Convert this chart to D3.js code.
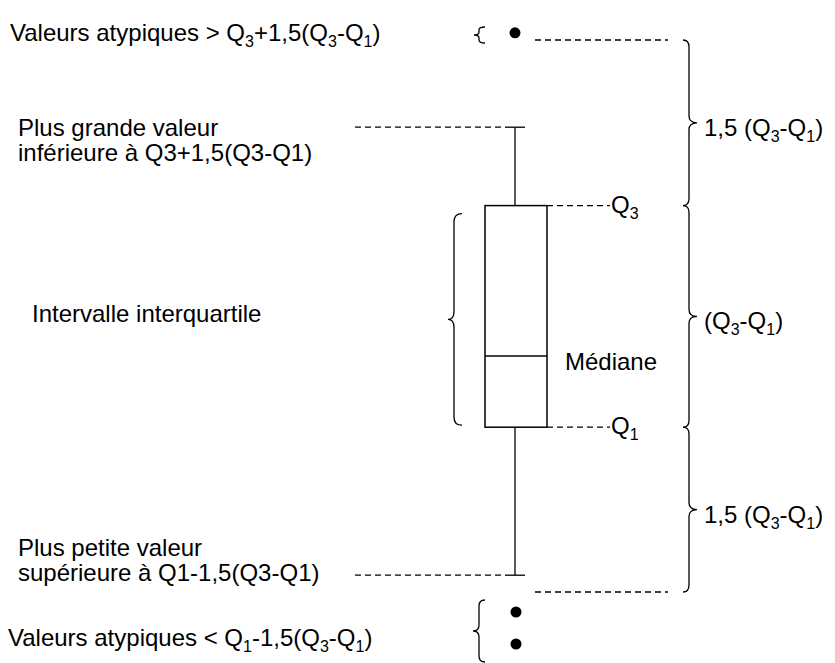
<!DOCTYPE html>
<html>
<head>
<meta charset="utf-8">
<script src="https://cdn.jsdelivr.net/npm/d3@7/dist/d3.min.js"></script>
<style>
  html, body { margin: 0; padding: 0; background: #fff; }
  svg { display: block; }
  text { font-family: "Liberation Sans", Arial, sans-serif; fill: #000; }
</style>
</head>
<body>
<svg id="chart" width="835" height="663"></svg>
<script>
// ---- data (abstract value units) ----
const category = ["Distribution"];
const upperOutliers = [39.2];
const lowerOutliers = [3.0, 1.0];
const whiskerValues = [5.3, 33.3];          // lower, upper whisker end
const quartileValues = [14.55, 19.0, 28.4]; // Q1, median, Q3
const fenceValues = [4.25, 38.75];          // Q1-1.5IQR, Q3+1.5IQR (schematic)

// ---- labels (use "_" + char for subscript) ----
const labelOutHigh = "Valeurs atypiques > Q_3+1,5(Q_3-Q_1)";
const labelOutLow = "Valeurs atypiques < Q_1-1,5(Q_3-Q_1)";
const labelMaxLines = ["Plus grande valeur", "inférieure à Q3+1,5(Q3-Q1)"];
const labelMinLines = ["Plus petite valeur", "supérieure à Q1-1,5(Q3-Q1)"];
const labelIQR = "Intervalle interquartile";
const labelMedian = "Médiane";
const labelQ3 = "Q_3";
const labelQ1 = "Q_1";
const rightLabels = ["1,5 (Q_3-Q_1)", "(Q_3-Q_1)", "1,5 (Q_3-Q_1)"];

const svg = d3.select("#chart");
const y = d3.scaleLinear().domain([0, 40]).range([660, 20]);
const x = d3.scaleBand().domain(category).range([485, 547]).padding(0);

const cx = x(category[0]) + x.bandwidth() / 2 - 1;
const [q1, med, q3] = quartileValues;
const [wLo, wHi] = whiskerValues;
const [fLo, fHi] = fenceValues;

const FS = 24;
function richText(sel, str, xPos, yPos) {
  const t = sel.append("text").attr("x", xPos).attr("y", yPos).attr("font-size", FS);
  const parts = str.split(/(_.)/).filter(s => s.length);
  let shifted = false;
  parts.forEach(p => {
    if (p[0] === "_" && p.length === 2) {
      t.append("tspan").attr("font-size", 16).attr("dy", 6).text(p[1]);
      shifted = true;
    } else {
      const ts = t.append("tspan").text(p);
      if (shifted) { ts.attr("dy", -6); shifted = false; }
    }
  });
  return t;
}

function brace(xEnd, xMid, xTip, y1, y2, r) {
  const ym = (y1 + y2) / 2;
  const p = d3.path();
  p.moveTo(xEnd, y1);
  p.quadraticCurveTo(xMid, y1, xMid, y1 + r);
  p.lineTo(xMid, ym - r);
  p.quadraticCurveTo(xMid, ym, xTip, ym);
  p.quadraticCurveTo(xMid, ym, xMid, ym + r);
  p.lineTo(xMid, y2 - r);
  p.quadraticCurveTo(xMid, y2, xEnd, y2);
  return p.toString();
}

const g = svg.append("g");
const line = (x1, y1, x2, y2, dashed) => g.append("line")
  .attr("x1", x1).attr("y1", y1).attr("x2", x2).attr("y2", y2)
  .attr("stroke", "#000").attr("stroke-width", 1.3)
  .attr("stroke-dasharray", dashed ? "6,4" : null);

// whiskers
line(cx, y(wHi), cx, y(q3));
line(cx, y(q1), cx, y(wLo));
line(cx - 10, y(wHi), cx + 10, y(wHi));
line(cx - 10, y(wLo), cx + 10, y(wLo));

// box
g.append("rect")
  .attr("x", x(category[0])).attr("y", y(q3))
  .attr("width", x.bandwidth()).attr("height", y(q1) - y(q3))
  .attr("fill", "none").attr("stroke", "#000").attr("stroke-width", 1.5);
line(x(category[0]), y(med), x(category[0]) + x.bandwidth(), y(med));

// dashed guides
line(355, y(wHi), cx - 10, y(wHi), true);
line(355, y(wLo), cx - 10, y(wLo), true);
line(x(category[0]) + x.bandwidth(), y(q3), 610, y(q3), true);
line(x(category[0]) + x.bandwidth(), y(q1), 610, y(q1), true);
line(535, y(fHi), 668, y(fHi), true);
line(535, y(fLo), 668, y(fLo), true);

// outliers
g.selectAll("circle.hi").data(upperOutliers).join("circle")
  .attr("cx", cx).attr("cy", d => y(d)).attr("r", 5.5).attr("fill", "#000");
g.selectAll("circle.lo").data(lowerOutliers).join("circle")
  .attr("cx", cx + 1).attr("cy", d => y(d)).attr("r", 5.5).attr("fill", "#000");

// braces
const bStyle = s => s.attr("fill", "none").attr("stroke", "#000").attr("stroke-width", 1.3);
// right braces
[[fHi, q3], [q3, q1], [q1, fLo]].forEach(([a, b]) => {
  g.append("path").attr("d", brace(683, 689, 697, y(a), y(b), 7)).call(bStyle);
});
// IQR brace (left)
g.append("path").attr("d", brace(462, 454, 448, y(q3) + 8, y(q1) - 2, 8)).call(bStyle);
// outlier braces
g.append("path").attr("d", brace(485, 479, 474, 27, 43, 3)).call(bStyle);
g.append("path").attr("d", brace(485, 479, 473, 600, 662, 6)).call(bStyle);

// texts
const tg = svg.append("g");
richText(tg, labelOutHigh, 10, 41);
richText(tg, labelOutLow, 8, 646);
labelMaxLines.forEach((s, i) => richText(tg, s, 18, 136 + i * 25));
labelMinLines.forEach((s, i) => richText(tg, s, 18, 556 + i * 25));
richText(tg, labelIQR, 32, 322);
richText(tg, labelMedian, 565, 370);
richText(tg, labelQ3, 611, y(q3) + 7);
richText(tg, labelQ1, 611, y(q1) + 7);
[[fHi, q3], [q3, q1], [q1, fLo]].forEach(([a, b], i) => {
  richText(tg, rightLabels[i], 704, (y(a) + y(b)) / 2 + 13);
});
</script>
</body>
</html>
